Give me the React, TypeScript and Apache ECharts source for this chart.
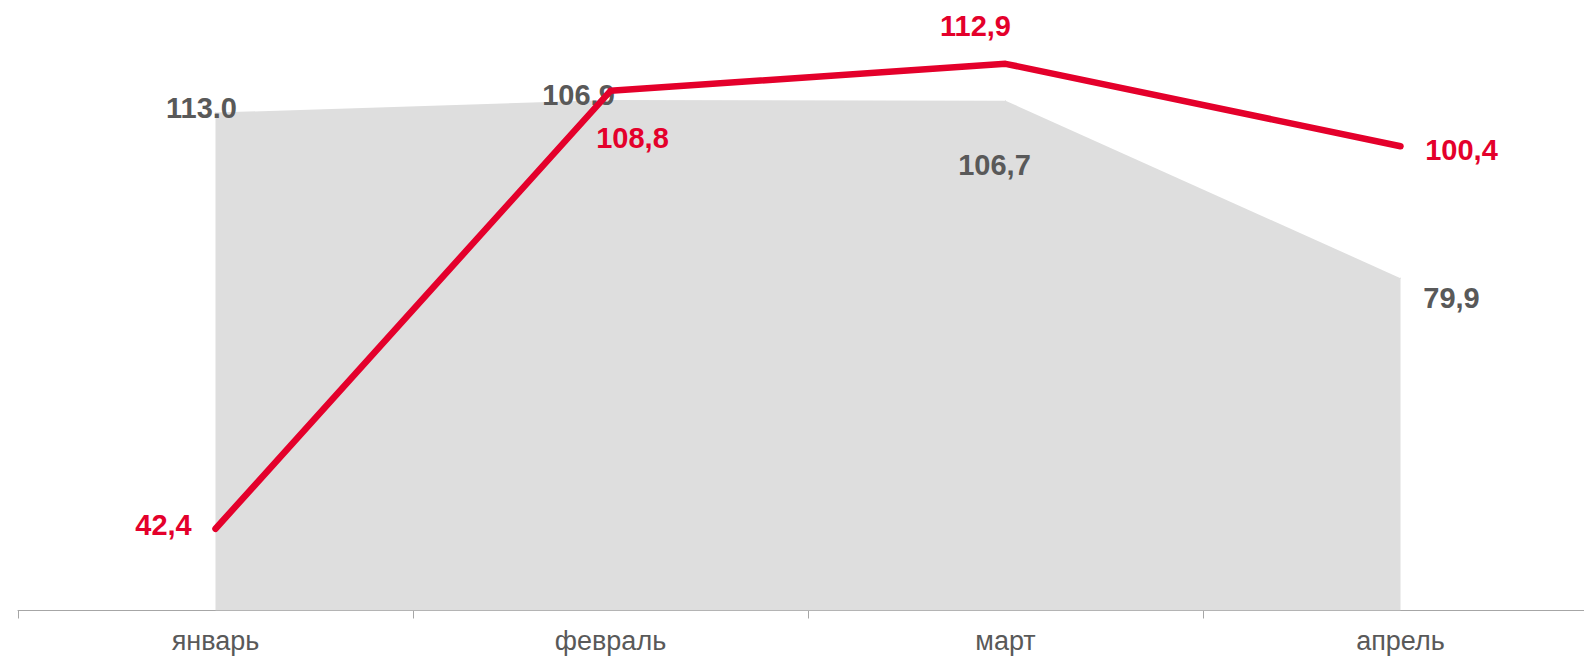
import React, { useEffect, useRef } from "react";
import * as echarts from "echarts";

const categories = ["январь", "февраль", "март", "апрель"];
const greyValues = [105.5, 107.4, 107.3, 80.4];
const greyLabels = ["113.0", "106,9", "106,7", "79,9"];
// red line values
const redValues = [42.4, 108.8, 112.9, 100.4];
const redLabels = ["42,4", "108,8", "112,9", "100,4"];

// label offsets (layout only)
const greyOffsets = [
  [-14, -5],
  [-32, -5],
  [-11, 64],
  [51, 20],
];
const redOffsets = [
  [-52, -4],
  [22, 47],
  [-30, -38],
  [61, 4],
];

const RED = "#e4002b";
const GREY_TEXT = "#595959";
const AREA = "#dedede";

export default function App() {
  const ref = useRef<HTMLDivElement>(null);
  useEffect(() => {
    if (!ref.current) return;
    const chart = echarts.init(ref.current, undefined, { renderer: "svg" });
    const labelFont = {
      fontFamily: "Liberation Sans, Arial, sans-serif",
      fontSize: 29,
      fontWeight: "bold" as const,
    };
    chart.setOption({
      animation: false,
      grid: { left: 18, width: 1580, top: 17, height: 593.5 },
      xAxis: {
        type: "category",
        data: categories,
        boundaryGap: true,
        axisLine: { lineStyle: { color: "#a6a6a6", width: 1 } },
        axisTick: { show: true, length: 8, lineStyle: { color: "#a6a6a6" } },
        axisLabel: {
          color: GREY_TEXT,
          fontSize: 27,
          fontFamily: "Liberation Sans, Arial, sans-serif",
          margin: 17,
        },
      },
      yAxis: {
        type: "value",
        min: 30,
        max: 120,
        show: false,
        splitLine: { show: false },
      },
      series: [
        {
          type: "line",
          data: greyValues.map((v, i) => ({
            value: v,
            label: { offset: greyOffsets[i] },
          })),
          symbol: "circle",
          symbolSize: 1,
          showSymbol: true,
          itemStyle: { color: AREA },
          lineStyle: { width: 0, color: AREA },
          areaStyle: { color: AREA, opacity: 1 },
          label: {
            show: true,
            position: "inside",
            align: "center",
            verticalAlign: "middle",
            color: GREY_TEXT,
            ...labelFont,
            formatter: (p: any) => greyLabels[p.dataIndex],
          },
          z: 1,
        },
        {
          type: "line",
          data: redValues.map((v, i) => ({
            value: v,
            label: { offset: redOffsets[i] },
          })),
          symbol: "circle",
          symbolSize: 1,
          showSymbol: true,
          itemStyle: { color: RED },
          lineStyle: { width: 6.5, color: RED, cap: "round", join: "round" },
          label: {
            show: true,
            position: "inside",
            align: "center",
            verticalAlign: "middle",
            color: RED,
            ...labelFont,
            formatter: (p: any) => redLabels[p.dataIndex],
          },
          z: 2,
        },
      ],
    });
    return () => chart.dispose();
  }, []);
  return (
    <div
      style={{
        position: "absolute",
        left: 0,
        top: 0,
        width: 1584,
        height: 658,
        overflow: "hidden",
      }}
    >
      <div ref={ref} style={{ width: 1620, height: 658 }} />
    </div>
  );
}
